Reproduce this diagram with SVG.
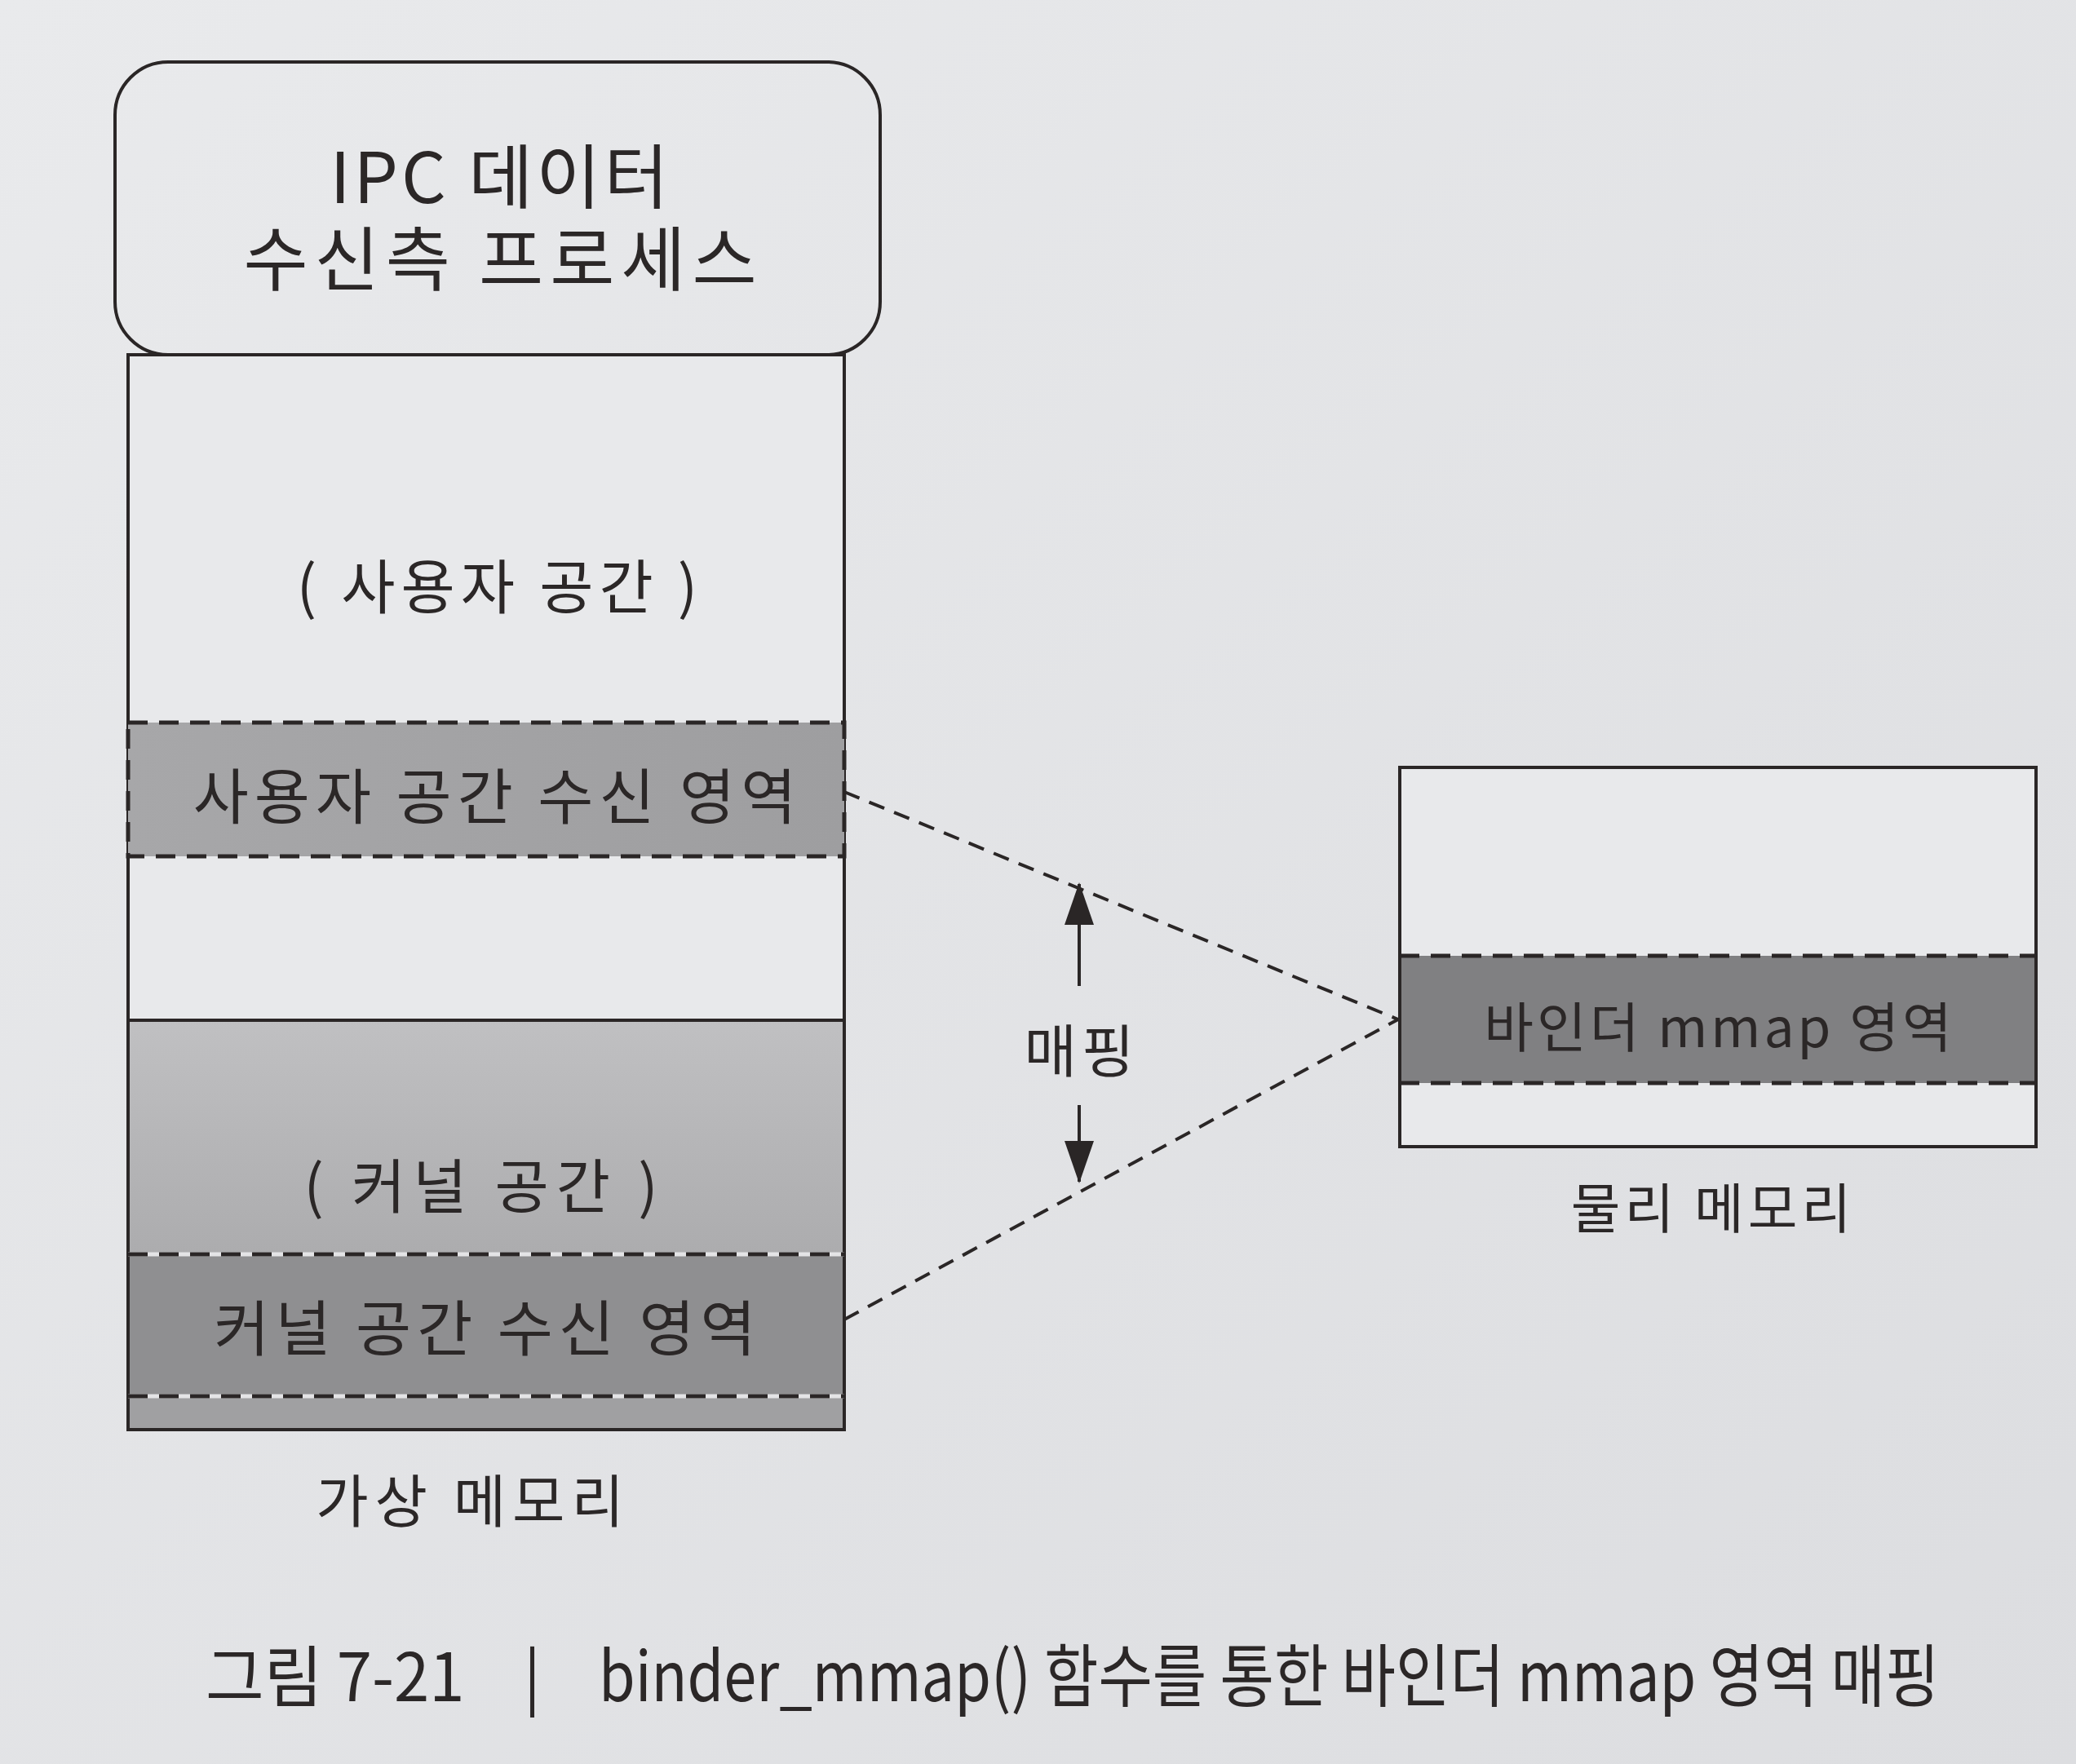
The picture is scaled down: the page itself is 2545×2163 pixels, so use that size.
<svg xmlns="http://www.w3.org/2000/svg" width="2545" height="2163" viewBox="0 0 2545 2163">
<defs>
<linearGradient id="bg" x1="0" y1="0" x2="1" y2="1">
<stop offset="0" stop-color="#e9eaec"/>
<stop offset="1" stop-color="#dcdde0"/>
</linearGradient>
<linearGradient id="kern" x1="0" y1="0" x2="0" y2="1">
<stop offset="0" stop-color="#c0c0c2"/>
<stop offset="1" stop-color="#acacae"/>
</linearGradient>
<linearGradient id="urecv" x1="0" y1="0" x2="1" y2="0">
<stop offset="0" stop-color="#a7a7a9"/>
<stop offset="1" stop-color="#9e9ea0"/>
</linearGradient>
<marker id="ah" viewBox="0 0 52 36" refX="50" refY="18" markerWidth="52" markerHeight="36" orient="auto" markerUnits="userSpaceOnUse">
<path d="M0,0 L52,18 L0,36 Z" fill="#2a2626"/>
</marker>
<style>
.t{font-family:"Noto Sans CJK KR","Noto Sans",sans-serif;fill:#2b2727;text-anchor:middle;dominant-baseline:central}
.ln{stroke:#2a2626;stroke-width:4;fill:none}
.dash{stroke:#2a2626;stroke-width:5;fill:none;stroke-dasharray:24 14}
.gap{stroke:#e4e4e6;stroke-width:5;fill:none}
.conn{stroke:#2a2626;stroke-width:4;fill:none;stroke-dasharray:20 13}
.cap{font-family:"Noto Sans CJK KR","Noto Sans",sans-serif;fill:#2b2727;dominant-baseline:central}
</style>
</defs>
<rect x="0" y="0" width="2545" height="2163" fill="url(#bg)"/>

<g id="process">
<rect x="141" y="76" width="938" height="359" rx="65" ry="65" fill="#e9eaec" class="ln"/>
<text class="t" font-size="86"><tspan x="614" y="211" letter-spacing="4">IPC 데이터</tspan><tspan x="617" y="312" letter-spacing="8">수신측 프로세스</tspan></text>
</g>

<g id="virtual-memory">
<rect x="157" y="435" width="878" height="1318" fill="#e8e9eb"/>
<rect x="157" y="1251" width="878" height="287" fill="url(#kern)"/>
<rect x="157" y="1538" width="878" height="174" fill="#8f8f91"/>
<rect x="157" y="1712" width="878" height="41" fill="#a0a0a2"/>
<rect x="157" y="435" width="878" height="1318" class="ln"/>
<line x1="157" y1="1251" x2="1035" y2="1251" class="ln"/>
<text class="t" x="613" y="714" font-size="72" letter-spacing="7">( 사용자 공간 )</text>
<text class="t" x="594" y="1449" font-size="72" letter-spacing="9">( 커널 공간 )</text>
<text class="t" x="580" y="1836" font-size="70" letter-spacing="8">가상 메모리</text>
</g>

<g id="user-recv">
<rect x="157" y="886" width="878" height="164" fill="url(#urecv)"/>
<rect x="157" y="886" width="878" height="164" class="dash"/>
<text class="t" x="610" y="971" font-size="74" letter-spacing="7">사용자 공간 수신 영역</text>
</g>

<g id="kernel-recv">
<line x1="157" y1="1538" x2="1035" y2="1538" class="gap"/>
<line x1="157" y1="1538" x2="1035" y2="1538" class="dash"/>
<line x1="157" y1="1712" x2="1035" y2="1712" class="gap"/>
<line x1="157" y1="1712" x2="1035" y2="1712" class="dash"/>
<text class="t" x="598" y="1623" font-size="74" letter-spacing="7">커널 공간 수신 영역</text>
</g>

<g id="physical-memory">
<rect x="1716" y="941" width="780" height="465" fill="#e8e9eb"/>
<rect x="1716" y="1172" width="780" height="156" fill="#808082"/>
<rect x="1716" y="941" width="780" height="465" class="ln"/>
<line x1="1716" y1="1172" x2="2496" y2="1172" class="dash"/>
<line x1="1716" y1="1328" x2="2496" y2="1328" class="dash"/>
<text class="t" x="2108" y="1255" font-size="66" letter-spacing="4">바인더 mmap 영역</text>
<text class="t" x="2100" y="1477" font-size="66" letter-spacing="5">물리 메모리</text>
</g>

<g id="connectors">
<line x1="1035" y1="971" x2="1714" y2="1250" class="conn"/>
<line x1="1035" y1="1618" x2="1714" y2="1250" class="conn"/>
<line x1="1323" y1="1209" x2="1323" y2="1084" class="ln" marker-end="url(#ah)"/>
<line x1="1323" y1="1355" x2="1323" y2="1449" class="ln" marker-end="url(#ah)"/>
<text class="t" x="1326" y="1284" font-size="70" letter-spacing="6">매핑</text>
</g>

<g id="caption">
<text class="cap" transform="translate(252 2050) scale(0.95 1)" x="0" y="0" font-size="82">그림 7-21</text>
<text class="cap" x="642" y="2050" font-size="78">|</text>
<text class="cap" transform="translate(734 2050) scale(0.86 1)" x="0" y="0" font-size="84">binder_mmap() 함수를 통한 바인더 mmap 영역 매핑</text>
</g>
</svg>
